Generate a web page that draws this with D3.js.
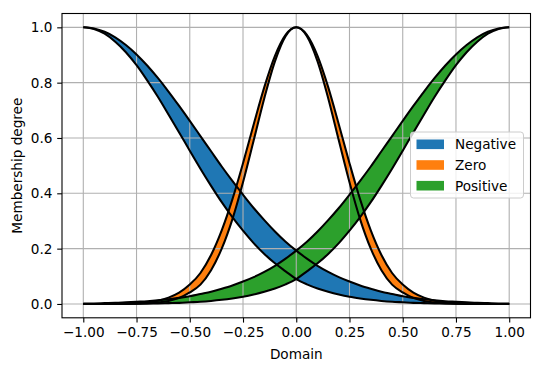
<!DOCTYPE html>
<html>
<head>
<meta charset="utf-8">
<script src="https://cdn.jsdelivr.net/npm/d3@7"></script>
<style>
  body { margin: 0; background: #fff; }
  text { font-family: "DejaVu Sans", sans-serif; }
</style>
</head>
<body>
<svg id="chart" width="545" height="371"></svg>
<script>
var domain = [-1, -0.95, -0.9, -0.85, -0.8, -0.75, -0.7, -0.65, -0.6, -0.55, -0.5,
  -0.45, -0.4, -0.35, -0.3, -0.25, -0.2, -0.15, -0.1, -0.05, 0,
  0.05, 0.1, 0.15, 0.2, 0.25, 0.3, 0.35, 0.4, 0.45, 0.5,
  0.55, 0.6, 0.65, 0.7, 0.75, 0.8, 0.85, 0.9, 0.95, 1]

var negativeUpper = [1, 0.996, 0.984, 0.964, 0.936, 0.902, 0.862, 0.817, 0.768, 0.716, 0.662,
  0.607, 0.552, 0.497, 0.445, 0.395, 0.347, 0.303, 0.262, 0.225, 0.193,
  0.164, 0.138, 0.116, 0.097, 0.081, 0.067, 0.055, 0.044, 0.036, 0.028,
  0.022, 0.017, 0.013, 0.010, 0.008, 0.006, 0.004, 0.003, 0.002, 0.002]
var negativeLower = [1, 0.994, 0.977, 0.948, 0.910, 0.863, 0.808, 0.749, 0.685, 0.620, 0.554,
  0.489, 0.427, 0.368, 0.314, 0.265, 0.220, 0.181, 0.147, 0.118, 0.090,
  0.071, 0.056, 0.044, 0.034, 0.026, 0.020, 0.015, 0.011, 0.008, 0.006,
  0.004, 0.003, 0.002, 0.002, 0.001, 0.001, 0.001, 0, 0, 0]

var zeroUpper = [0, 0, 0, 0, 0.001, 0.003, 0.006, 0.012, 0.023, 0.041, 0.070,
  0.112, 0.177, 0.266, 0.378, 0.509, 0.649, 0.784, 0.897, 0.973, 1,
  0.973, 0.897, 0.784, 0.649, 0.509, 0.378, 0.266, 0.177, 0.112, 0.070,
  0.041, 0.023, 0.012, 0.006, 0.003, 0.001, 0, 0, 0, 0]
var zeroLower = [0, 0, 0, 0, 0, 0.001, 0.002, 0.005, 0.011, 0.022, 0.042,
  0.070, 0.122, 0.200, 0.306, 0.440, 0.591, 0.744, 0.877, 0.968, 1,
  0.968, 0.877, 0.744, 0.591, 0.440, 0.306, 0.200, 0.122, 0.070, 0.042,
  0.022, 0.011, 0.005, 0.002, 0.001, 0, 0, 0, 0, 0]

var positiveUpper = [0.002, 0.002, 0.003, 0.004, 0.006, 0.008, 0.010, 0.013, 0.017, 0.022, 0.028,
  0.036, 0.044, 0.055, 0.067, 0.081, 0.097, 0.116, 0.138, 0.164, 0.193,
  0.225, 0.262, 0.303, 0.347, 0.395, 0.445, 0.497, 0.552, 0.607, 0.662,
  0.716, 0.768, 0.817, 0.862, 0.902, 0.936, 0.964, 0.984, 0.996, 1]
var positiveLower = [0, 0, 0, 0.001, 0.001, 0.001, 0.002, 0.002, 0.003, 0.004, 0.006,
  0.008, 0.011, 0.015, 0.020, 0.026, 0.034, 0.044, 0.056, 0.071, 0.090,
  0.118, 0.147, 0.181, 0.220, 0.265, 0.314, 0.368, 0.427, 0.489, 0.554,
  0.620, 0.685, 0.749, 0.808, 0.863, 0.910, 0.948, 0.977, 0.994, 1]

var setNames = ["Negative", "Zero", "Positive"]
var setColors = ["#1f77b4", "#ff7f0e", "#2ca02c"]
var xTicks = [-1, -0.75, -0.5, -0.25, 0, 0.25, 0.5, 0.75, 1]
var yTicks = [0, 0.2, 0.4, 0.6, 0.8, 1]

function draw() {
  var svg = d3.select("#chart")
  var left = 62, right = 530.5, top = 13.5, bottom = 317.8
  var x = d3.scaleLinear().domain([-1.1, 1.1]).range([left, right])
  var y = d3.scaleLinear().domain([-0.05, 1.05]).range([bottom, top])
  var fontSize = "13.6px"

  var bands = [
    {upper: negativeUpper, lower: negativeLower},
    {upper: zeroUpper, lower: zeroLower},
    {upper: positiveUpper, lower: positiveLower}
  ]

  var area = d3.area()
    .x(function(d) { return x(d.x) })
    .y0(function(d) { return y(d.lo) })
    .y1(function(d) { return y(d.hi) })
    .curve(d3.curveMonotoneX)
  var line = d3.line()
    .x(function(d) { return x(d[0]) })
    .y(function(d) { return y(d[1]) })
    .curve(d3.curveMonotoneX)

  // fills sit below the grid, like matplotlib collections
  bands.forEach(function(b, i) {
    var pts = domain.map(function(v, k) { return {x: v, lo: b.lower[k], hi: b.upper[k]} })
    svg.append("path").attr("d", area(pts)).attr("fill", setColors[i])
  })

  var grid = svg.append("g").attr("stroke", "#b0b0b0").attr("stroke-width", 1.1)
  xTicks.forEach(function(t) {
    grid.append("line").attr("x1", x(t)).attr("x2", x(t)).attr("y1", top).attr("y2", bottom)
  })
  yTicks.forEach(function(t) {
    grid.append("line").attr("x1", left).attr("x2", right).attr("y1", y(t)).attr("y2", y(t))
  })

  bands.forEach(function(b) {
    [b.upper, b.lower].forEach(function(vals) {
      svg.append("path")
        .attr("d", line(domain.map(function(v, k) { return [v, vals[k]] })))
        .attr("fill", "none").attr("stroke", "#000")
        .attr("stroke-width", 2.05).attr("stroke-linejoin", "round")
    })
  })

  var fmtX = function(d) { return d3.format(".2f")(d).replace("-", "\u2212") }
  var fmtY = function(d) { return d3.format(".1f")(d) }
  var xAxis = svg.append("g").attr("transform", "translate(0," + bottom + ")")
    .call(d3.axisBottom(x).tickValues(xTicks).tickFormat(fmtX).tickSize(4.8).tickPadding(4.8))
  var yAxis = svg.append("g").attr("transform", "translate(" + left + ",0)")
    .call(d3.axisLeft(y).tickValues(yTicks).tickFormat(fmtY).tickSize(4.8).tickPadding(4.8))
  ;[xAxis, yAxis].forEach(function(a) {
    a.select(".domain").remove()
    a.selectAll("text").attr("font-size", fontSize).attr("font-family", "DejaVu Sans").attr("fill", "#000")
    a.selectAll("line").attr("stroke-width", 1.1)
  })

  svg.append("rect").attr("x", left).attr("y", top)
    .attr("width", right - left).attr("height", bottom - top)
    .attr("fill", "none").attr("stroke", "#000").attr("stroke-width", 1.1)

  svg.append("text").attr("x", (left + right) / 2).attr("y", 359)
    .attr("text-anchor", "middle").attr("font-size", fontSize).text("Domain")
  svg.append("text").attr("transform", "translate(22," + (top + bottom) / 2 + ") rotate(-90)")
    .attr("text-anchor", "middle").attr("font-size", fontSize).text("Membership degree")

  var legend = svg.append("g").attr("transform", "translate(410.5,132)")
  legend.append("rect").attr("width", 113).attr("height", 66).attr("rx", 3)
    .attr("fill", "#fff").attr("fill-opacity", 0.8).attr("stroke", "#cccccc").attr("stroke-width", 1)
  setNames.forEach(function(name, i) {
    legend.append("rect").attr("x", 6).attr("y", 7.5 + i * 20.7)
      .attr("width", 27.5).attr("height", 9.6).attr("fill", setColors[i])
    legend.append("text").attr("x", 44.5).attr("y", 17.2 + i * 20.7)
      .attr("font-size", fontSize).text(name)
  })
}
draw()
</script>
</body>
</html>
